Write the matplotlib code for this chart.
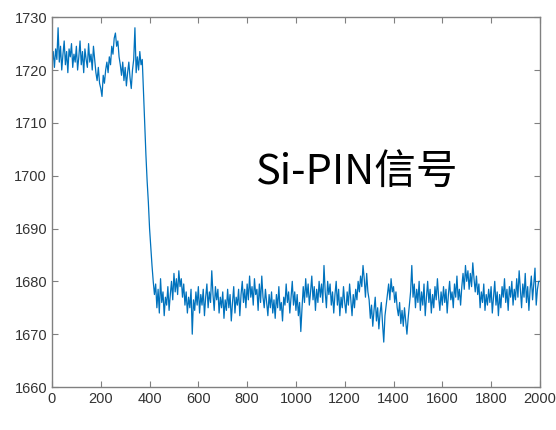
import numpy as np
import matplotlib
matplotlib.use("Agg")
import matplotlib.pyplot as plt

# 采样点（每 5 个单位读一次）
x_step = 5
signal = [
    1721.0, 1723.5, 1720.5, 1724.0, 1722.0, 1728.0, 1721.5, 1724.5, 1720.0, 1723.0,
    1725.5, 1721.0, 1723.5, 1719.5, 1724.0, 1722.5, 1725.0, 1720.5, 1723.0, 1721.5,
    1724.5, 1720.0, 1722.5, 1725.5, 1721.0, 1723.5, 1719.5, 1724.0, 1722.0, 1720.5,
    1725.0, 1721.5, 1723.0, 1720.0, 1724.5, 1722.0, 1719.5, 1718.0, 1720.5, 1717.5,
    1716.5, 1715.0, 1719.0, 1717.5, 1720.0, 1721.5, 1719.5, 1722.5, 1721.0, 1724.5,
    1723.0, 1726.0, 1727.0, 1724.5, 1725.5, 1722.5, 1721.0, 1719.0, 1721.5, 1718.0,
    1720.5, 1717.0, 1719.5, 1721.5, 1718.5, 1716.5, 1720.0, 1722.0, 1728.0, 1719.5,
    1722.5, 1720.0, 1723.5, 1721.0, 1722.0, 1716.0, 1710.0, 1704.0, 1699.0, 1695.0,
    1690.0, 1686.5, 1683.0, 1680.0, 1677.5, 1679.5, 1675.0, 1678.5, 1674.0, 1680.5,
    1676.0, 1678.0, 1673.5, 1677.0, 1675.5, 1679.0, 1674.5, 1677.5, 1680.0, 1676.5,
    1681.5, 1678.0, 1680.5, 1677.5, 1682.0, 1679.0, 1680.5, 1677.0, 1679.5, 1675.5,
    1678.0, 1674.0, 1677.0, 1675.0, 1678.5, 1670.0, 1676.5, 1674.5, 1678.0, 1675.5,
    1679.0, 1674.0, 1677.5, 1675.5, 1678.5, 1673.5, 1677.0, 1679.5, 1675.0, 1678.0,
    1676.0, 1682.0, 1677.5, 1674.5, 1679.0, 1676.5, 1678.5, 1674.0, 1677.0, 1675.0,
    1678.0, 1673.0, 1676.5, 1674.5, 1678.5, 1675.0, 1677.5, 1672.5, 1676.0, 1679.0,
    1674.0, 1677.0, 1675.5, 1678.5, 1673.5, 1677.5, 1680.0, 1676.0, 1678.5, 1675.0,
    1679.5, 1676.5, 1681.0, 1677.0, 1679.0, 1675.5, 1680.5, 1677.5, 1678.5, 1674.5,
    1679.5, 1676.0, 1681.0, 1677.0, 1675.0, 1678.5, 1676.0, 1673.5, 1677.5, 1675.0,
    1678.0, 1674.0, 1676.5, 1673.0, 1677.5, 1675.0, 1679.0, 1674.5, 1676.0, 1672.5,
    1677.0, 1675.5, 1679.5, 1676.0, 1678.0, 1674.0, 1677.0, 1680.0, 1675.5, 1678.0,
    1674.5, 1677.5, 1673.5, 1676.0, 1670.5, 1675.0, 1679.0, 1676.0, 1680.5, 1677.0,
    1679.5, 1675.5, 1678.0, 1681.0, 1676.5, 1679.0, 1674.5, 1678.5, 1676.0, 1680.0,
    1677.0, 1679.5, 1676.0, 1683.0, 1678.0, 1675.0, 1680.0, 1677.5, 1679.5, 1675.5,
    1678.0, 1674.0, 1677.5, 1680.0, 1675.5, 1678.5, 1673.5, 1677.0, 1675.0, 1679.0,
    1676.0, 1674.0, 1678.0, 1675.5, 1679.5, 1676.5, 1673.5, 1677.5, 1675.0, 1678.5,
    1676.5, 1680.0, 1678.0, 1681.0, 1679.0, 1683.0, 1680.5, 1677.0, 1681.5, 1678.0,
    1676.5, 1673.0, 1675.5, 1671.5, 1674.5, 1677.0, 1672.5, 1675.0, 1671.0, 1674.0,
    1676.0, 1672.0, 1668.5, 1673.5, 1675.5, 1677.5, 1679.5, 1676.5, 1680.5, 1678.0,
    1679.0, 1676.0, 1678.0, 1675.0, 1673.5, 1676.0, 1672.0, 1674.5, 1671.5, 1675.0,
    1672.5, 1670.0, 1673.0, 1675.5, 1678.0, 1683.0, 1677.0, 1679.5, 1675.0, 1678.5,
    1676.0, 1680.0, 1674.5, 1678.0, 1675.5, 1679.5, 1673.5, 1677.0, 1680.0, 1676.0,
    1678.5, 1674.0, 1677.5, 1675.0, 1679.0, 1676.5, 1680.5, 1677.0, 1674.5, 1678.0,
    1675.5, 1679.0, 1676.0, 1678.5, 1674.0, 1677.5, 1680.0, 1676.5, 1678.0, 1675.0,
    1679.5, 1677.0, 1681.0, 1676.5, 1678.5, 1675.5, 1679.0, 1681.5, 1678.5, 1683.0,
    1680.0, 1682.0, 1678.5, 1681.5, 1679.0, 1683.5, 1680.5, 1678.0, 1681.0, 1677.5,
    1679.5, 1675.0, 1678.0, 1676.0, 1679.5, 1674.5, 1677.5, 1675.5, 1678.5, 1676.0,
    1679.0, 1674.0, 1677.0, 1680.0, 1675.5, 1678.0, 1673.5, 1677.5, 1675.0, 1679.0,
    1677.0, 1680.5, 1676.0, 1678.5, 1674.5, 1679.0, 1677.0, 1680.0, 1675.5, 1678.5,
    1676.5, 1680.5, 1677.0, 1682.0, 1678.5, 1675.0, 1679.5, 1677.0, 1681.5, 1676.0,
    1679.0, 1674.5, 1678.5, 1681.0, 1676.5, 1679.5, 1682.5, 1675.5, 1678.5, 1680.0,
    1680.0,
]
x = np.arange(len(signal)) * x_step

x_ticks = [0, 200, 400, 600, 800, 1000, 1200, 1400, 1600, 1800, 2000]
y_ticks = [1660, 1670, 1680, 1690, 1700, 1710, 1720, 1730]

plt.rcParams["font.family"] = ["Liberation Sans", "DejaVu Sans"]

fig = plt.figure(figsize=(5.56, 4.30), dpi=100)
ax = fig.add_axes([0.0935, 0.1, 0.8775, 0.86])

ax.plot(x, signal, color="#0072BD", linewidth=0.9)

ax.set_xlim(0, 2000)
ax.set_ylim(1660, 1730)
ax.set_xticks(x_ticks)
ax.set_yticks(y_ticks)

for s in ax.spines.values():
    s.set_color("#808080")
    s.set_linewidth(1.0)
ax.tick_params(direction="in", length=4, width=0.8, color="#808080",
               top=True, right=True, labelsize=10.5, labelcolor="#333333")

fig.text(0.459, 0.570, "Si-PIN信号", fontsize=30, color="black",
         family=["Noto Sans CJK SC", "DejaVu Sans"], va="baseline", ha="left")

fig.savefig("out.png", dpi=100)
plt.close(fig)
